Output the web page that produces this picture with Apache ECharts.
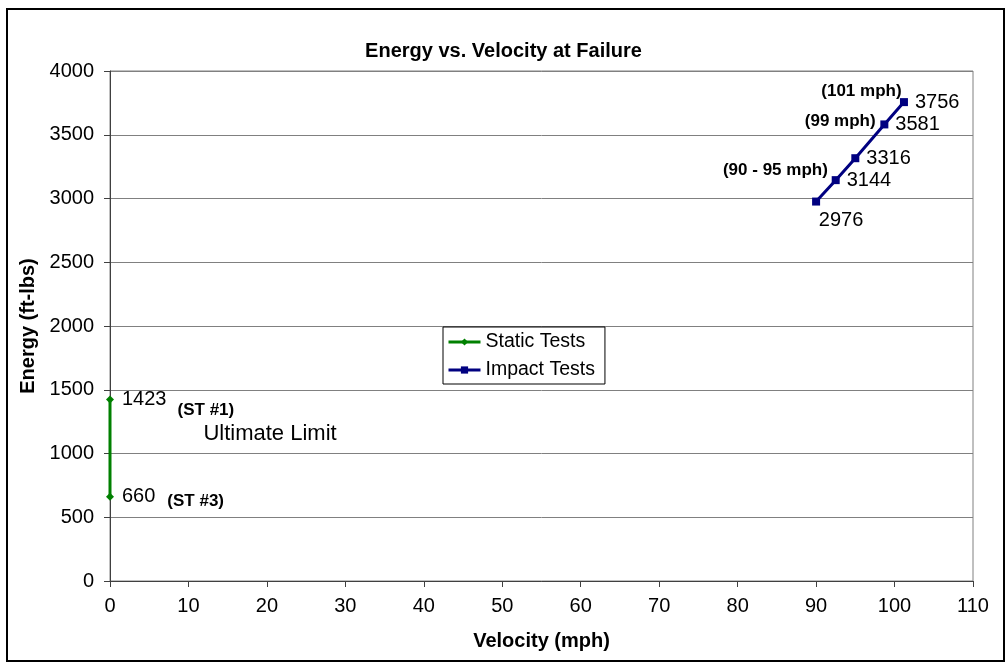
<!DOCTYPE html>
<html>
<head>
<meta charset="utf-8">
<script src="https://cdn.jsdelivr.net/npm/echarts@6/dist/echarts.min.js"></script>
<style>
html,body{margin:0;padding:0;background:#fff;}
#chart{width:1007px;height:666px;}
</style>
</head>
<body>
<div id="chart"></div>
<script>
// Data
var staticTests = [[0, 1423], [0, 660]];
var impactTests = [[90, 2976], [92.5, 3144], [95, 3316], [98.7, 3581], [101.2, 3756]];
var xTicks = [0, 10, 20, 30, 40, 50, 60, 70, 80, 90, 100, 110];
var yTicks = [0, 500, 1000, 1500, 2000, 2500, 3000, 3500, 4000];
var annotText = ['(101 mph)', '(99 mph)', '(90 - 95 mph)', '(ST #1)', '(ST #3)', 'Ultimate Limit'];
var annotX = [100.9, 97.6, 91.5, 8.6, 7.3, 11.9];
var annotY = [3838, 3602, 3224, 1341, 622, 1151];
var annotSide = ['left', 'left', 'left', 'right', 'right', 'right'];
var annotBold = [true, true, true, true, true, false];

var FONT = 'Liberation Sans, Arial, sans-serif';
var chart = echarts.init(document.getElementById('chart'), null, {renderer: 'canvas'});

var annotData = annotText.map(function (t, i) {
  return {
    value: [annotX[i], annotY[i]],
    label: {
      show: true,
      formatter: t,
      position: annotSide[i],
      distance: 0,
      fontFamily: FONT,
      fontSize: annotBold[i] ? 17 : 22,
      fontWeight: annotBold[i] ? 'bold' : 'normal',
      color: '#000',
      opacity: 1
    }
  };
});

var impactData = impactTests.map(function (p, i) {
  if (i === 0) {
    return {value: p, label: {position: 'bottom', distance: 5, offset: [25, 0]}};
  }
  return {value: p};
});

chart.setOption({
  animation: false,
  backgroundColor: '#fff',
  title: {
    text: 'Energy vs. Velocity at Failure',
    left: 'center',
    top: 36,
    textStyle: {fontFamily: FONT, fontSize: 20, fontWeight: 'bold', color: '#000'}
  },
  graphic: [{
    type: 'rect',
    shape: {x: 7, y: 9, width: 997, height: 652},
    style: {fill: 'none', stroke: '#000', lineWidth: 2},
    silent: true,
    z: 100
  }],
  legend: {
    data: ['Static Tests', 'Impact Tests'],
    orient: 'vertical',
    left: 443,
    top: 327,
    align: 'left',
    itemWidth: 32,
    itemHeight: 9,
    itemGap: 8,
    padding: [5, 10, 4, 4],
    borderColor: '#000',
    borderWidth: 1,
    backgroundColor: '#fff',
    lineStyle: {width: 3},
    textStyle: {fontFamily: FONT, fontSize: 19.5, color: '#000'}
  },
  grid: {
    left: 110, top: 71, right: 34, bottom: 85,
    show: true, borderColor: '#808080', borderWidth: 1
  },
  xAxis: {
    type: 'value',
    min: 0, max: 110, interval: 10,
    name: 'Velocity (mph)',
    nameLocation: 'middle',
    nameGap: 50,
    nameTextStyle: {fontFamily: FONT, fontSize: 20, fontWeight: 'bold', color: '#000'},
    axisLine: {show: true, onZero: false, lineStyle: {color: '#404040', width: 1}},
    axisTick: {show: true, inside: false, length: 6, lineStyle: {color: '#404040'}},
    axisLabel: {margin: 15, fontFamily: FONT, fontSize: 20, color: '#000',
      formatter: function (v) { return xTicks.indexOf(v) >= 0 ? String(v) : ''; }},
    splitLine: {show: false}
  },
  yAxis: {
    type: 'value',
    min: 0, max: 4000, interval: 500,
    name: 'Energy (ft-lbs)',
    nameLocation: 'middle',
    nameGap: 64,
    nameTextStyle: {fontFamily: FONT, fontSize: 20, fontWeight: 'bold', color: '#000'},
    axisLine: {show: true, onZero: false, lineStyle: {color: '#404040', width: 1}},
    axisTick: {show: true, inside: false, length: 6, lineStyle: {color: '#404040'}},
    axisLabel: {margin: 16, fontFamily: FONT, fontSize: 20, color: '#000',
      formatter: function (v) { return yTicks.indexOf(v) >= 0 ? String(v) : ''; }},
    splitLine: {show: true, lineStyle: {color: '#808080', width: 1}}
  },
  series: [
    {
      name: 'Static Tests',
      type: 'line',
      data: staticTests,
      symbol: 'diamond',
      symbolSize: 8,
      lineStyle: {color: '#008000', width: 3},
      itemStyle: {color: '#008000'},
      label: {show: true, position: 'right', distance: 8, fontFamily: FONT, fontSize: 20, color: '#000',
        formatter: function (p) { return p.value[1]; }},
      z: 3
    },
    {
      name: 'Impact Tests',
      type: 'line',
      data: impactData,
      symbol: 'rect',
      symbolSize: 8,
      lineStyle: {color: '#000080', width: 3},
      itemStyle: {color: '#000080'},
      label: {show: true, position: 'right', distance: 7, fontFamily: FONT, fontSize: 20, color: '#000',
        formatter: function (p) { return p.value[1]; }},
      z: 3
    },
    {
      name: 'annotations',
      type: 'scatter',
      data: annotData,
      symbolSize: 0.1,
      itemStyle: {color: 'rgba(0,0,0,0)', opacity: 1},
      silent: true,
      z: 4
    }
  ]
});
</script>
</body>
</html>
